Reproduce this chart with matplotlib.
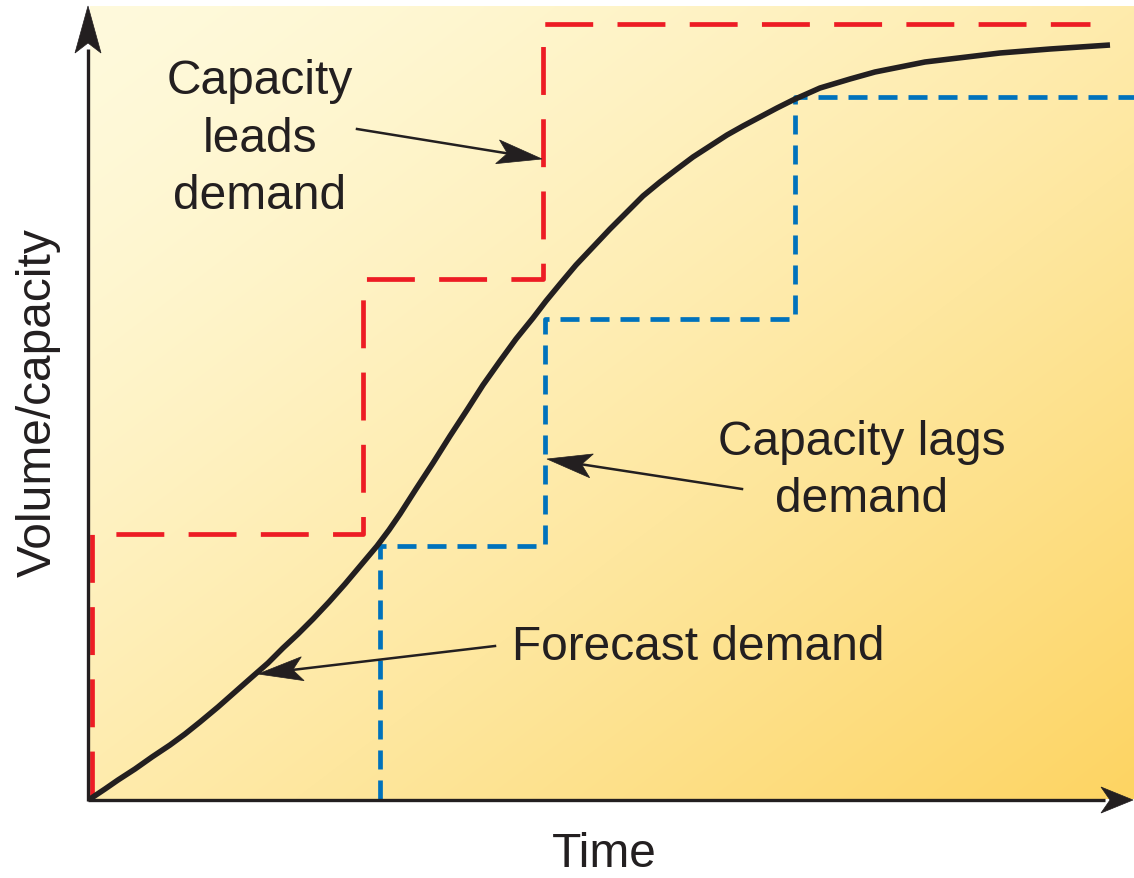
import numpy as np
import matplotlib
matplotlib.use("Agg")
import matplotlib.pyplot as plt
from matplotlib.patches import Polygon
from matplotlib.colors import to_rgb

plt.rcParams['font.family'] = ['Liberation Sans', 'DejaVu Sans']
plt.rcParams['lines.scale_dashes'] = False

# ---------------- data (time units / volume units) ----------------
demand_time = [0, 15, 28, 45, 62, 80, 95, 110, 128, 145, 162, 178, 193, 208, 223,
               239, 255, 271, 287, 299, 310, 326, 343, 360, 377, 393, 410, 426, 443,
               456, 470, 486, 503, 520, 537, 553, 570, 587, 603, 620, 637, 653, 670,
               687, 703, 730, 760, 785, 810, 835, 860, 885, 910, 935, 960, 990, 1020]
demand_volume = [0, 10, 19, 30, 42, 54, 65, 77, 92, 107, 122, 136, 151, 165, 180,
                 197, 215, 234, 253, 269, 285, 310, 336, 363, 389, 414, 438, 460, 481,
                 498, 515, 534, 552, 570, 587, 603, 617, 630, 642, 653, 664, 673, 682,
                 691, 699, 711, 720, 727, 732, 737, 740, 743, 746, 748, 750, 752, 754]

leads_time = [2, 2, 273, 273, 453, 453, 1000]
leads_capacity = [0, 265, 265, 520, 520, 775, 775]

lags_time = [290, 290, 455, 455, 705, 705, 1044]
lags_capacity = [0, 253, 253, 480, 480, 702, 702]

label_leads = "Capacity\nleads\ndemand"
label_lags = "Capacity lags\ndemand"
label_demand = "Forecast demand"
x_label = "Time"
y_label = "Volume/capacity"

# ---------------- figure ----------------
W, H = 1134, 879
fig = plt.figure(figsize=(W / 100, H / 100), dpi=100)
ax = fig.add_axes([0, 0, 1, 1])
ax.set_xlim(-90, 1044)
ax.set_ylim(-79, 800)
ax.axis('off')

TEXT = '#231F20'
RED = '#ED1C24'
BLUE = '#0072BC'

# gradient background panel
nx, ny = 400, 300
xx, yy = np.meshgrid(np.linspace(0, 1, nx), np.linspace(0, 1, ny))
t = np.clip((xx + yy) / 2, 0, 1) ** 1.35
c0 = np.array(to_rgb('#FFFADC'))
c1 = np.array(to_rgb('#FDD462'))
img = c0[None, None, :] * (1 - t[..., None]) + c1[None, None, :] * t[..., None]
ax.imshow(img, extent=[0, 1044, 0, 793], origin='upper', aspect='auto',
          interpolation='bilinear', zorder=0)


def stealth(tip, tail, length, width, notch, color=TEXT, z=5):
    tip = np.array(tip, float)
    tail = np.array(tail, float)
    d = tip - tail
    d /= np.hypot(*d)
    n = np.array([-d[1], d[0]])
    back = tip - d * length
    p1 = back + n * width / 2
    p2 = back - n * width / 2
    pn = tip - d * (length - notch)
    ax.add_patch(Polygon([tip, p1, pn, p2], closed=True, facecolor=color,
                         edgecolor=color, lw=0.5, zorder=z))
    return pn


# axes with arrowheads
ax.plot([-2, -2], [-2, 750], color=TEXT, lw=2.4, zorder=6, solid_capstyle='butt')
stealth((-2, 793), (-2, 0), 47, 26, 10, z=6)
ax.plot([-2, 1015], [-1, -1], color=TEXT, lw=2.4, zorder=6, solid_capstyle='butt')
stealth((1043, -1), (0, -1), 32, 26, 9, z=6)

# capacity lines
ax.plot(leads_time, leads_capacity, color=RED, lw=3.4, dashes=(34.5, 17.5),
        dash_capstyle='butt', solid_joinstyle='miter', zorder=3)
ax.plot(lags_time, lags_capacity, color=BLUE, lw=3.4, dashes=(13.7, 7.9),
        dash_capstyle='butt', solid_joinstyle='miter', zorder=3)

# demand curve
ax.plot(demand_time, demand_volume, color=TEXT, lw=4.0, zorder=4,
        solid_capstyle='butt', solid_joinstyle='round')

# annotation arrows
def note_arrow(tail, tip):
    pn = stealth(tip, tail, 45, 24, 10)
    ax.plot([tail[0], pn[0]], [tail[1], pn[1]], color=TEXT, lw=1.8, zorder=5)

note_arrow((267, 670), (452, 640))
note_arrow((652, 310), (457, 340))
note_arrow((405, 153), (168, 125))

fs = 34.5
ax.text(170, 661, label_leads, fontsize=fs, color=TEXT, ha='center', va='center',
        multialignment='center', linespacing=1.36, zorder=7)
ax.text(772, 329, label_lags, fontsize=fs, color=TEXT, ha='center', va='center',
        multialignment='center', linespacing=1.36, zorder=7)
ax.text(608, 153, label_demand, fontsize=fs, color=TEXT, ha='center', va='center',
        zorder=7)
ax.text(514, -55, x_label, fontsize=fs, color=TEXT, ha='center', va='center')
ax.text(-52, 397, y_label, fontsize=fs, color=TEXT, ha='center', va='center',
        rotation=90)

fig.savefig('out.png', dpi=100, facecolor='white')
